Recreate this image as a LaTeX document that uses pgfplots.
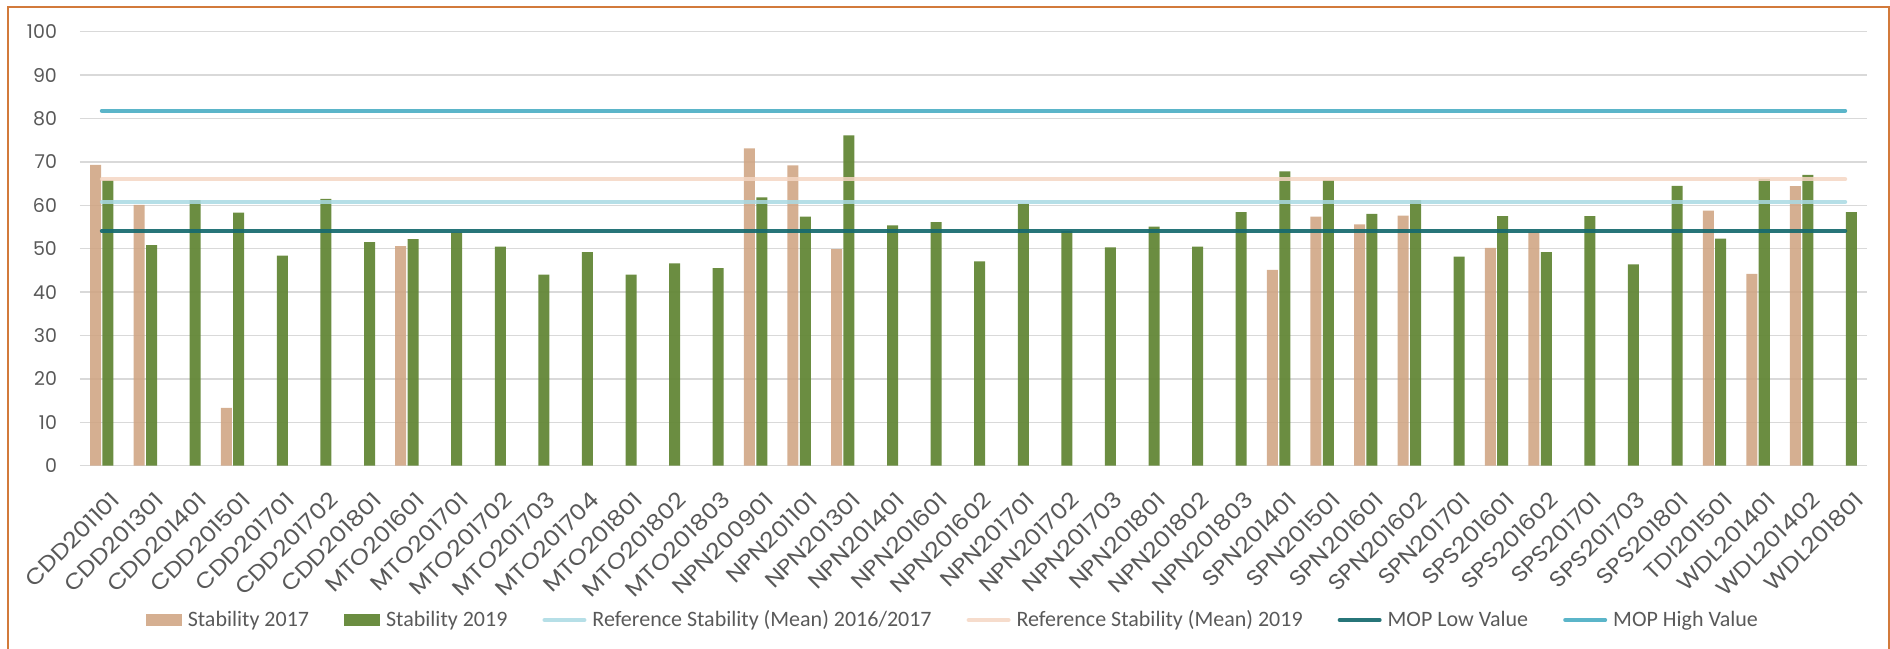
\documentclass[border=0pt]{standalone}
\usepackage{fontspec}
\setmainfont{Carlito}
\newfontfamily\tickfont{Poppins}
\newfontfamily\xtickfont[FakeStretch=1.12]{Poppins}
\usepackage{pgfplots}
\pgfplotsset{compat=1.18}
\definecolor{tanbar}{HTML}{CFA482}
\definecolor{greenbar}{HTML}{66893B}
\definecolor{refA}{HTML}{A9D9E3}
\definecolor{refB}{HTML}{F5D6C3}
\definecolor{moplow}{HTML}{15696E}
\definecolor{mophigh}{HTML}{5BB5C9}
\definecolor{gridgray}{HTML}{D9D9D9}
\definecolor{labelgray}{HTML}{595959}
\definecolor{frameorange}{HTML}{D27A3B}
\begin{document}
\begin{tikzpicture}
\begin{axis}[
  scale only axis, width=893.5pt, height=217pt,
  xmin=-0.5, xmax=40.5, ymin=0, ymax=100,
  ytick={0,10,...,100},
  xtick={0,...,40},
  xticklabels={CDD201101,CDD201301,CDD201401,CDD201501,CDD201701,CDD201702,CDD201801,MTO201601,MTO201701,MTO201702,MTO201703,MTO201704,MTO201801,MTO201802,MTO201803,NPN200901,NPN201101,NPN201301,NPN201401,NPN201601,NPN201602,NPN201701,NPN201702,NPN201703,NPN201801,NPN201802,NPN201803,SPN201401,SPN201501,SPN201601,SPN201602,SPN201701,SPS201601,SPS201602,SPS201701,SPS201703,SPS201801,TDI201501,WDL201401,WDL201402,WDL201801},
  axis line style={draw=none},
  major tick length=0pt,
  ymajorgrids,
  grid style={color=gridgray, line width=0.75pt},
  /pgf/number format/assume math mode=true,
  tick label style={text=labelgray},
  yticklabel style={font=\tickfont\fontsize{9.5}{11}\selectfont},
  yticklabel shift=8pt,
  xticklabel style={font=\xtickfont\fontsize{11}{13}\selectfont, xshift=4pt, rotate=45, anchor=north east, inner sep=0pt},
  xticklabel shift=12pt,
  no markers,
  legend columns=6,
  legend style={at={(0.489,-0.3555)}, anchor=center, draw=none, fill=none,
    font=\fontsize{11}{13}\selectfont, text=labelgray,
    /tikz/every even column/.append style={column sep=15.5pt},
    /tikz/every odd column/.append style={column sep=1pt}},
]
\addplot[ybar, bar width=5.5pt, bar shift=-3.1pt, fill=tanbar, fill opacity=0.88, draw=none,
  legend image code/.code={\fill[tanbar] (0pt,-2.8pt) rectangle (18pt,2.8pt);}]
 coordinates {(0,69.3) (1,60.1) (3,13.3) (7,50.6) (15,73.1) (16,69.2) (17,49.9) (27,45.1) (28,57.4) (29,55.6) (30,57.6) (32,50.2) (33,53.8) (37,58.8) (38,44.2) (39,64.4)};
\addlegendentry{Stability 2017}
\addplot[ybar, bar width=5.5pt, bar shift=3.1pt, fill=greenbar, fill opacity=0.97, draw=none,
  legend image code/.code={\fill[greenbar] (0pt,-2.8pt) rectangle (18pt,2.8pt);}]
 coordinates {(0,65.8) (1,50.8) (2,61.2) (3,58.3) (4,48.4) (5,61.5) (6,51.5) (7,52.2) (8,53.7) (9,50.5) (10,44.0) (11,49.2) (12,44.0) (13,46.6) (14,45.5) (15,61.8) (16,57.4) (17,76.1) (18,55.4) (19,56.1) (20,47.1) (21,60.3) (22,54.1) (23,50.3) (24,55.1) (25,50.5) (26,58.4) (27,67.8) (28,65.8) (29,58.0) (30,61.2) (31,48.2) (32,57.5) (33,49.2) (34,57.5) (35,46.4) (36,64.5) (37,52.3) (38,66.1) (39,67.0) (40,58.4)};
\addlegendentry{Stability 2019}
\addplot[refA, line width=2pt, line cap=round, opacity=0.85,
  legend image code/.code={\draw[refA, line width=2pt, line cap=round] (0pt,0pt) -- (20pt,0pt);}]
 coordinates {(0,60.8) (40,60.8)};
\addlegendentry{Reference Stability (Mean) 2016/2017}
\addplot[refB, line width=2pt, line cap=round, opacity=0.85,
  legend image code/.code={\draw[refB, line width=2pt, line cap=round] (0pt,0pt) -- (20pt,0pt);}]
 coordinates {(0,66.0) (40,66.0)};
\addlegendentry{Reference Stability (Mean) 2019}
\addplot[moplow, line width=2pt, line cap=round, opacity=0.92,
  legend image code/.code={\draw[moplow, line width=2pt, line cap=round] (0pt,0pt) -- (20pt,0pt);}]
 coordinates {(0,54.1) (40,54.1)};
\addlegendentry{MOP Low Value}
\addplot[mophigh, line width=2pt, line cap=round,
  legend image code/.code={\draw[mophigh, line width=2pt, line cap=round] (0pt,0pt) -- (20pt,0pt);}]
 coordinates {(0,81.8) (40,81.8)};
\addlegendentry{MOP High Value}
\end{axis}
\draw[frameorange, line width=0.8pt] (-36pt,-95pt) -- (-36pt,229.35pt) -- (904.5pt,229.35pt) -- (904.5pt,-95pt);
\pgfresetboundingbox
\path[use as bounding box] (-40pt,-91.15pt) rectangle (905pt,232.85pt);
\end{tikzpicture}
\end{document}
